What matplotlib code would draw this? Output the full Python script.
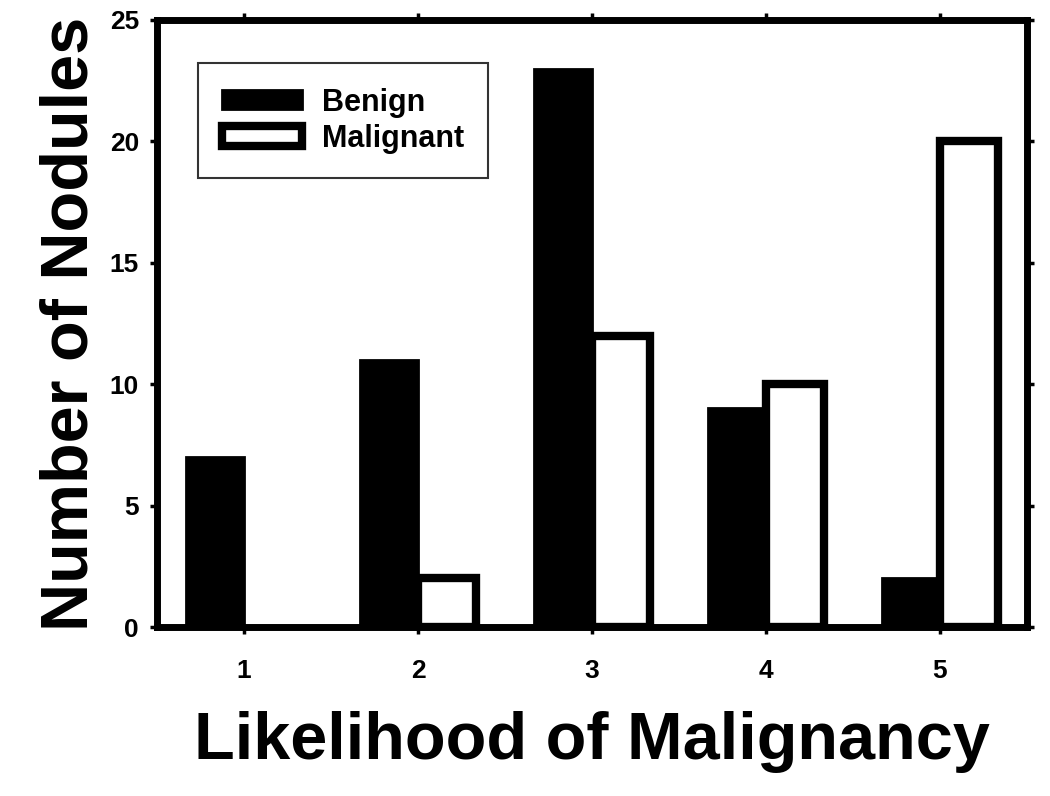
import numpy as np
import matplotlib
matplotlib.use("Agg")
import matplotlib.pyplot as plt
from matplotlib.patches import Patch

# data
categories = [1, 2, 3, 4, 5]
benign = [7, 11, 23, 9, 2]
malignant = [0, 2, 12, 10, 20]

plt.rcParams['font.family'] = ['Liberation Sans', 'DejaVu Sans']
plt.rcParams['font.weight'] = 'bold'

fig = plt.figure(figsize=(10.5, 7.96), dpi=100)
ax = fig.add_axes([0.1495, 0.2123, 0.8285, 0.7626])

x = np.array(categories)
w = 1 / 3
ax.bar(x - w / 2, benign, width=w, color='black', edgecolor='black',
       linewidth=2, zorder=2)
mal = ax.bar(x + w / 2, malignant, width=w, color='white', edgecolor='black',
             linewidth=6, zorder=2)
# empty bar has no visible outline in the original
for p, v in zip(mal.patches, malignant):
    if v == 0:
        p.set_linewidth(0)

ax.set_xlim(0.5, 5.5)
ax.set_ylim(0, 25)
ax.set_xticks(categories)
ax.set_yticks([0, 5, 10, 15, 20, 25])

for s in ax.spines.values():
    s.set_linewidth(5)

ax.tick_params(axis='both', direction='out', length=5, width=2.5,
               labelsize=19, top=True, right=True)
ax.tick_params(axis='x', pad=18)
ax.tick_params(axis='y', pad=8)
for lab in ax.get_xticklabels() + ax.get_yticklabels():
    lab.set_fontweight('bold')

ax.set_xlabel('Likelihood of Malignancy', fontsize=48, fontweight='bold',
              labelpad=20)
ax.set_ylabel('Number of Nodules', fontsize=48, fontweight='bold',
              labelpad=6)

handles = [Patch(facecolor='black', edgecolor='black', linewidth=2),
           Patch(facecolor='white', edgecolor='black', linewidth=6)]
leg = ax.legend(handles, ['Benign', 'Malignant'],
                loc='upper left', bbox_to_anchor=(0.047, 0.929),
                frameon=True, fancybox=False, edgecolor='black',
                prop={'size': 22, 'weight': 'bold'},
                handlelength=2.6, handleheight=0.6,
                borderpad=0.8, labelspacing=0.2, handletextpad=0.65,
                borderaxespad=0)
leg.get_frame().set_linewidth(1.5)

fig.savefig('out.png', dpi=100)
